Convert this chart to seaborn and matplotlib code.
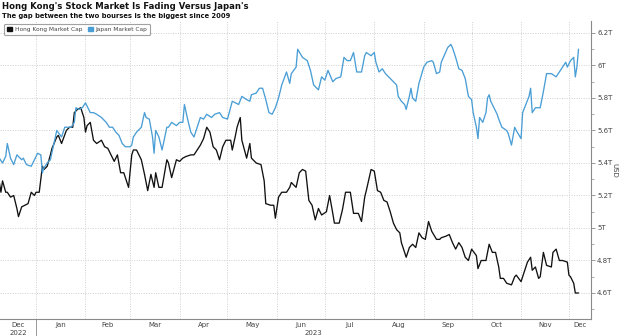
import matplotlib
matplotlib.use("Agg")
import matplotlib.pyplot as plt
import matplotlib.dates as mdates
import matplotlib.ticker as mticker
import matplotlib.transforms as mtransforms
from matplotlib.patches import Patch
import pandas as pd
import seaborn as sns

# Market capitalisation, trillions of USD
hk_dates = [
    "2022-12-09", "2022-12-10", "2022-12-11", "2022-12-13", "2022-12-14", "2022-12-16",
    "2022-12-18", "2022-12-20", "2022-12-21", "2022-12-23", "2022-12-25", "2022-12-27",
    "2022-12-29", "2022-12-31", "2023-01-01", "2023-01-03", "2023-01-05", "2023-01-06",
    "2023-01-08", "2023-01-10", "2023-01-11", "2023-01-14", "2023-01-15", "2023-01-17",
    "2023-01-20", "2023-01-22", "2023-01-24", "2023-01-25", "2023-01-27", "2023-01-29",
    "2023-01-31", "2023-02-01", "2023-02-02", "2023-02-04", "2023-02-06", "2023-02-08",
    "2023-02-11", "2023-02-13", "2023-02-15", "2023-02-17", "2023-02-19", "2023-02-21",
    "2023-02-23", "2023-02-25", "2023-02-28", "2023-03-02", "2023-03-03", "2023-03-05",
    "2023-03-08", "2023-03-10", "2023-03-12", "2023-03-14", "2023-03-16", "2023-03-17",
    "2023-03-19", "2023-03-21", "2023-03-24", "2023-03-25", "2023-03-27", "2023-03-30",
    "2023-04-01", "2023-04-03", "2023-04-05", "2023-04-08", "2023-04-10", "2023-04-12",
    "2023-04-14", "2023-04-16", "2023-04-18", "2023-04-20", "2023-04-22", "2023-04-24",
    "2023-04-26", "2023-04-28", "2023-04-30", "2023-05-03", "2023-05-04", "2023-05-06",
    "2023-05-07", "2023-05-09", "2023-05-10", "2023-05-13", "2023-05-15", "2023-05-16",
    "2023-05-19", "2023-05-22", "2023-05-24", "2023-05-25", "2023-05-28", "2023-05-30",
    "2023-05-31", "2023-06-02", "2023-06-04", "2023-06-07", "2023-06-09", "2023-06-10",
    "2023-06-13", "2023-06-15", "2023-06-17", "2023-06-19", "2023-06-21", "2023-06-23",
    "2023-06-25", "2023-06-27", "2023-06-29", "2023-07-02", "2023-07-04", "2023-07-06",
    "2023-07-07", "2023-07-10", "2023-07-12", "2023-07-14", "2023-07-17", "2023-07-19",
    "2023-07-22", "2023-07-24", "2023-07-26", "2023-07-27", "2023-07-30", "2023-08-01",
    "2023-08-03", "2023-08-05", "2023-08-07", "2023-08-09", "2023-08-11", "2023-08-13",
    "2023-08-15", "2023-08-17", "2023-08-18", "2023-08-21", "2023-08-23", "2023-08-25",
    "2023-08-27", "2023-08-29", "2023-08-31", "2023-09-02", "2023-09-04", "2023-09-06",
    "2023-09-09", "2023-09-11", "2023-09-12", "2023-09-15", "2023-09-17", "2023-09-19",
    "2023-09-21", "2023-09-23", "2023-09-25", "2023-09-27", "2023-09-29", "2023-10-01",
    "2023-10-04", "2023-10-05", "2023-10-07", "2023-10-10", "2023-10-12", "2023-10-14",
    "2023-10-16", "2023-10-18", "2023-10-19", "2023-10-21", "2023-10-23", "2023-10-26",
    "2023-10-28", "2023-10-29", "2023-11-01", "2023-11-03", "2023-11-05", "2023-11-07",
    "2023-11-08", "2023-11-10", "2023-11-12", "2023-11-13", "2023-11-15", "2023-11-17",
    "2023-11-20", "2023-11-21", "2023-11-23", "2023-11-25", "2023-11-27", "2023-11-30",
    "2023-12-01", "2023-12-02", "2023-12-04", "2023-12-05", "2023-12-07",
]
hk_cap = [
    5.28, 5.22, 5.29, 5.22, 5.22, 5.19,
    5.20, 5.12, 5.07, 5.13, 5.14, 5.15,
    5.22, 5.20, 5.22, 5.22, 5.38, 5.36,
    5.38, 5.45, 5.49, 5.56, 5.57, 5.52,
    5.60, 5.62, 5.62, 5.71, 5.73, 5.74,
    5.68, 5.59, 5.63, 5.65, 5.54, 5.52,
    5.54, 5.50, 5.49, 5.45, 5.41, 5.45,
    5.34, 5.34, 5.25, 5.45, 5.48, 5.48,
    5.42, 5.33, 5.23, 5.33, 5.25, 5.34,
    5.25, 5.25, 5.42, 5.40, 5.31, 5.42,
    5.41, 5.43, 5.44, 5.45, 5.45, 5.48,
    5.51, 5.55, 5.62, 5.59, 5.50, 5.48,
    5.42, 5.50, 5.54, 5.54, 5.48, 5.57,
    5.62, 5.68, 5.54, 5.43, 5.52, 5.43,
    5.40, 5.39, 5.29, 5.15, 5.14, 5.14,
    5.06, 5.19, 5.22, 5.22, 5.25, 5.28,
    5.25, 5.34, 5.36, 5.35, 5.17, 5.14,
    5.05, 5.12, 5.08, 5.10, 5.20, 5.09,
    5.03, 5.03, 5.11, 5.22, 5.22, 5.09,
    5.09, 5.04, 5.19, 5.23, 5.36, 5.35,
    5.23, 5.22, 5.17, 5.16, 5.10, 5.03,
    4.99, 4.97, 4.91, 4.82, 4.88, 4.90,
    4.88, 4.97, 4.94, 4.93, 5.04, 4.98,
    4.93, 4.93, 4.94, 4.95, 4.96, 4.91,
    4.87, 4.91, 4.88, 4.82, 4.80, 4.87,
    4.83, 4.75, 4.80, 4.80, 4.90, 4.85,
    4.85, 4.76, 4.69, 4.69, 4.66, 4.65,
    4.70, 4.71, 4.67, 4.73, 4.79, 4.82,
    4.74, 4.76, 4.69, 4.70, 4.85, 4.77,
    4.76, 4.85, 4.87, 4.80, 4.80, 4.79,
    4.71, 4.70, 4.66, 4.60, 4.60,
]

jp_dates = [
    "2022-12-09", "2022-12-11", "2022-12-13", "2022-12-14", "2022-12-16", "2022-12-18",
    "2022-12-20", "2022-12-23", "2022-12-24", "2022-12-26", "2022-12-29", "2022-12-31",
    "2023-01-02", "2023-01-04", "2023-01-05", "2023-01-06", "2023-01-08", "2023-01-10",
    "2023-01-12", "2023-01-14", "2023-01-17", "2023-01-19", "2023-01-20", "2023-01-23",
    "2023-01-25", "2023-01-26", "2023-01-28", "2023-01-30", "2023-02-01", "2023-02-04",
    "2023-02-06", "2023-02-08", "2023-02-11", "2023-02-14", "2023-02-16", "2023-02-18",
    "2023-02-20", "2023-02-22", "2023-02-24", "2023-02-26", "2023-03-01", "2023-03-02",
    "2023-03-03", "2023-03-05", "2023-03-08", "2023-03-10", "2023-03-11", "2023-03-13",
    "2023-03-15", "2023-03-16", "2023-03-17", "2023-03-19", "2023-03-21", "2023-03-24",
    "2023-03-25", "2023-03-27", "2023-03-30", "2023-04-01", "2023-04-03", "2023-04-04",
    "2023-04-06", "2023-04-08", "2023-04-10", "2023-04-12", "2023-04-14", "2023-04-16",
    "2023-04-18", "2023-04-21", "2023-04-23", "2023-04-26", "2023-04-28", "2023-05-01",
    "2023-05-04", "2023-05-06", "2023-05-08", "2023-05-10", "2023-05-13", "2023-05-15",
    "2023-05-16", "2023-05-19", "2023-05-21", "2023-05-23", "2023-05-25", "2023-05-27",
    "2023-05-29", "2023-05-31", "2023-06-02", "2023-06-04", "2023-06-07", "2023-06-09",
    "2023-06-10", "2023-06-13", "2023-06-14", "2023-06-17", "2023-06-20", "2023-06-22",
    "2023-06-24", "2023-06-25", "2023-06-27", "2023-06-29", "2023-07-01", "2023-07-03",
    "2023-07-06", "2023-07-08", "2023-07-11", "2023-07-13", "2023-07-15", "2023-07-17",
    "2023-07-19", "2023-07-21", "2023-07-24", "2023-07-26", "2023-07-27", "2023-07-30",
    "2023-08-01", "2023-08-02", "2023-08-04", "2023-08-06", "2023-08-08", "2023-08-10",
    "2023-08-12", "2023-08-15", "2023-08-16", "2023-08-18", "2023-08-20", "2023-08-21",
    "2023-08-23", "2023-08-24", "2023-08-25", "2023-08-27", "2023-08-29", "2023-09-01",
    "2023-09-03", "2023-09-06", "2023-09-07", "2023-09-09", "2023-09-11", "2023-09-12",
    "2023-09-16", "2023-09-18", "2023-09-19", "2023-09-21", "2023-09-23", "2023-09-25",
    "2023-09-27", "2023-09-29", "2023-10-01", "2023-10-02", "2023-10-04", "2023-10-05",
    "2023-10-06", "2023-10-08", "2023-10-10", "2023-10-11", "2023-10-12", "2023-10-13",
    "2023-10-15", "2023-10-17", "2023-10-18", "2023-10-20", "2023-10-23", "2023-10-24",
    "2023-10-26", "2023-10-28", "2023-10-29", "2023-11-01", "2023-11-02", "2023-11-04",
    "2023-11-06", "2023-11-07", "2023-11-08", "2023-11-10", "2023-11-12", "2023-11-13",
    "2023-11-15", "2023-11-17", "2023-11-20", "2023-11-23", "2023-11-25", "2023-11-27",
    "2023-11-29", "2023-11-30", "2023-12-02", "2023-12-04", "2023-12-05", "2023-12-06",
    "2023-12-07",
]
jp_cap = [
    5.43, 5.40, 5.44, 5.52, 5.43, 5.39,
    5.45, 5.42, 5.43, 5.39, 5.38, 5.42,
    5.46, 5.45, 5.34, 5.37, 5.40, 5.42,
    5.51, 5.60, 5.56, 5.62, 5.62, 5.62,
    5.65, 5.74, 5.73, 5.74, 5.77, 5.71,
    5.71, 5.70, 5.68, 5.65, 5.62, 5.62,
    5.59, 5.57, 5.52, 5.50, 5.50, 5.51,
    5.56, 5.59, 5.62, 5.71, 5.68, 5.67,
    5.56, 5.46, 5.60, 5.56, 5.48, 5.62,
    5.62, 5.65, 5.63, 5.65, 5.65, 5.76,
    5.67, 5.59, 5.56, 5.62, 5.68, 5.67,
    5.70, 5.68, 5.70, 5.71, 5.68, 5.67,
    5.78, 5.77, 5.76, 5.81, 5.79, 5.78,
    5.82, 5.83, 5.86, 5.86, 5.79, 5.71,
    5.70, 5.74, 5.80, 5.88, 5.96, 5.89,
    5.95, 5.99, 6.10, 6.05, 6.03, 5.97,
    5.88, 5.87, 5.85, 5.93, 5.91, 5.97,
    5.90, 5.92, 5.93, 6.05, 6.03, 6.03,
    6.08, 5.96, 5.96, 6.06, 6.08, 6.06,
    6.08, 6.02, 5.96, 5.98, 5.95, 5.93,
    5.91, 5.88, 5.81, 5.78, 5.76, 5.73,
    5.81, 5.86, 5.80, 5.78, 5.89, 5.99,
    6.02, 6.03, 6.02, 5.95, 5.96, 6.02,
    6.11, 6.13, 6.11, 6.05, 5.98, 5.97,
    5.92, 5.81, 5.79, 5.71, 5.62, 5.55,
    5.68, 5.65, 5.71, 5.80, 5.82, 5.78,
    5.74, 5.70, 5.67, 5.62, 5.60, 5.58,
    5.51, 5.62, 5.60, 5.55, 5.71, 5.76,
    5.81, 5.86, 5.71, 5.74, 5.74, 5.74,
    5.84, 5.95, 5.95, 5.93, 5.96, 5.99,
    6.02, 5.99, 6.03, 6.05, 5.93, 5.99,
    6.10,
]

series_names = ["Hong Kong Market Cap", "Japan Market Cap"]
series_colors = ["#111111", "#4a9ed6"]

y_ticks = [4.6, 4.8, 5.0, 5.2, 5.4, 5.6, 5.8, 6.0, 6.2]
y_tick_labels = ["4.6T", "4.8T", "5T", "5.2T", "5.4T", "5.6T", "5.8T", "6T", "6.2T"]
month_starts = pd.date_range("2022-12-01", "2024-01-01", freq="MS")
month_names = ["Dec", "Jan", "Feb", "Mar", "Apr", "May", "Jun", "Jul",
               "Aug", "Sep", "Oct", "Nov", "Dec"]
years = ["2022", "2023"]
x_range = (pd.Timestamp("2022-12-09 10:00"), pd.Timestamp("2023-12-14 18:00"))

title = "Hong Kong's Stock Market Is Fading Versus Japan's"
subtitle = "The gap between the two bourses is the biggest since 2009"

# ---------------------------------------------------------------------------
sns.set_theme(style="white")
plt.rcParams["font.family"] = ["DejaVu Sans"]

frames = []
for name, dates, vals in [(series_names[0], hk_dates, hk_cap),
                          (series_names[1], jp_dates, jp_cap)]:
    frames.append(pd.DataFrame({"date": pd.to_datetime(dates), "cap": vals, "series": name}))
df = pd.concat(frames, ignore_index=True)

fig = plt.figure(figsize=(6.2, 3.36), dpi=100)
ax = fig.add_axes([0.0, 0.0506, 0.953, 0.887])

sns.lineplot(data=df, x="date", y="cap", hue="series",
             palette=dict(zip(series_names, series_colors)),
             linewidth=0.95, ax=ax, legend=False, estimator=None)

ax.set_xlim(*x_range)
ax.set_ylim(4.44, 6.274)
ax.set_xlabel("")

# spines
for side in ["top", "left"]:
    ax.spines[side].set_visible(False)
for side in ["right", "bottom"]:
    ax.spines[side].set_color("#8a8a8a")
    ax.spines[side].set_linewidth(0.8)

# y axis on the right
ax.yaxis.tick_right()
ax.set_yticks(y_ticks)
ax.set_yticklabels(y_tick_labels)
ax.yaxis.set_minor_locator(mticker.MultipleLocator(0.1))
ax.tick_params(axis="y", which="major", length=3, width=0.6, color="#8a8a8a",
               labelsize=5, labelcolor="#444444", pad=1.5, left=False, right=True)
ax.tick_params(axis="y", which="minor", length=2, width=0.5, color="#8a8a8a",
               left=False, right=True)
ax.yaxis.set_label_position("right")
ax.set_ylabel("USD", rotation=-90, fontsize=5, color="#444444", labelpad=3.5)

# x axis: month boundaries as ticks, labels centred on visible part of each month
x0 = mdates.date2num(x_range[0])
x1 = mdates.date2num(x_range[1])
ax.xaxis.set_major_locator(mdates.MonthLocator())
ax.xaxis.set_major_formatter(mticker.NullFormatter())
ax.tick_params(axis="x", which="major", length=2.5, width=0.6, color="#8a8a8a",
               direction="inout")

starts = mdates.date2num(month_starts)
mids = []
for a, b in zip(starts[:-1], starts[1:]):
    lo, hi = max(a, x0), min(b, x1)
    mids.append((lo + hi) / 2)
ax.xaxis.set_minor_locator(mticker.FixedLocator(mids))
ax.xaxis.set_minor_formatter(mticker.FixedFormatter(month_names))
ax.tick_params(axis="x", which="minor", length=0, labelsize=5,
               labelcolor="#444444", pad=2)

trans = mtransforms.blended_transform_factory(ax.transData, ax.transAxes)
year_start = mdates.date2num(pd.Timestamp("2023-01-01"))
ax.text((x0 + year_start) / 2, -0.037, years[0], transform=trans, ha="center",
        va="top", fontsize=5, color="#444444")
ax.text((year_start + x1) / 2, -0.037, years[1], transform=trans, ha="center",
        va="top", fontsize=5, color="#444444")
ax.plot([year_start, year_start], [0, -0.07], transform=trans, color="#8a8a8a",
        lw=0.6, clip_on=False)

# dotted grid
ax.grid(True, which="major", axis="both", color="#cfcfcf",
        linestyle=(0, (1, 1.5)), linewidth=0.7)
ax.set_axisbelow(True)

# legend
handles = [Patch(facecolor=c, edgecolor=c) for c in series_colors]
leg = ax.legend(handles, series_names, loc="upper left", bbox_to_anchor=(0.002, 1.0),
                ncol=2, fontsize=4.2, frameon=True, fancybox=True,
                handlelength=0.8, handleheight=0.8, handletextpad=0.5,
                columnspacing=1.0, borderpad=0.5, labelcolor="#444444")
leg.get_frame().set_edgecolor("#8a8a8a")
leg.get_frame().set_linewidth(0.8)

fig.text(0.003, 0.995, title, fontsize=6.1, fontweight="bold", color="#111111",
         ha="left", va="top")
fig.text(0.003, 0.962, subtitle, fontsize=4.9, fontweight="bold", color="#111111",
         ha="left", va="top")

fig.savefig("out.png", dpi=100)
